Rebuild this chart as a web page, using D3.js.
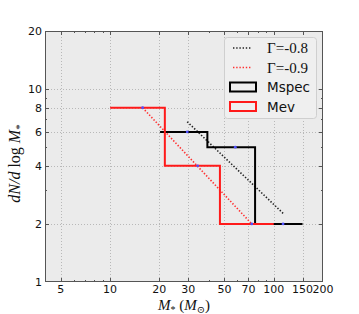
<!DOCTYPE html>
<html>
<head>
<meta charset="utf-8">
<script src="https://cdn.jsdelivr.net/npm/d3@7"></script>
<style>
  html, body { margin: 0; padding: 0; background: #fff; }
  svg { display: block; }
</style>
</head>
<body>
<div id="chart"></div>
<script>
// histogram bins
const mevEdges = [10, 21.6, 46.9, 100];
const mevValues = [8, 4, 2];
const mevCenters = [15.8, 34.3, 73.4];

const mspecEdges = [20.2, 39.3, 76.9, 150];
const mspecValues = [6, 5, 2];
const mspecCenters = [29.6, 58.2, 114];

// power-law fits (end points)
const fit08X = [29.6, 114];
const fit08Y = [6.77, 2.27];
const fit09X = [15.8, 73.4];
const fit09Y = [8, 2];

const xTicks = [5, 10, 20, 30, 50, 70, 100, 150, 200];
const xMinor = [6, 7, 8, 9, 40, 60, 80, 90];
const yTicks = [1, 2, 4, 6, 8, 10, 20];
const yMinor = [3, 5, 7, 9];

const W = 359, H = 314;
const L = 45, R = 323, T = 31, B = 282;

const svg = d3.select("#chart").append("svg")
    .attr("width", W).attr("height", H);

const x = d3.scaleLog().domain([4, 200]).range([L, R]);
const y = d3.scaleLog().domain([1, 20]).range([B, T]);

// axes background
svg.append("rect")
    .attr("x", L).attr("y", T)
    .attr("width", R - L).attr("height", B - T)
    .attr("fill", "#ebebeb");

// grid
const grid = svg.append("g")
    .attr("stroke", "#b8b8b8")
    .attr("stroke-width", 1)
    .attr("stroke-dasharray", "1,2");
grid.selectAll("line.gx").data(xTicks.filter(d => d < 200)).enter().append("line")
    .attr("x1", d => Math.round(x(d)) + 0.5).attr("x2", d => Math.round(x(d)) + 0.5)
    .attr("y1", T).attr("y2", B);
grid.selectAll("line.gy").data(yTicks.filter(d => d > 1 && d < 20)).enter().append("line")
    .attr("y1", d => Math.round(y(d)) + 0.5).attr("y2", d => Math.round(y(d)) + 0.5)
    .attr("x1", L).attr("x2", R);

// fit lines
const lineFit = d3.line().x(d => x(d[0])).y(d => y(d[1]));
svg.append("path")
    .attr("d", lineFit(d3.zip(fit08X, fit08Y)))
    .attr("fill", "none")
    .attr("stroke", "#222")
    .attr("stroke-width", 1.6)
    .attr("stroke-dasharray", "1.4,1.8");
svg.append("path")
    .attr("d", lineFit(d3.zip(fit09X, fit09Y)))
    .attr("fill", "none")
    .attr("stroke", "#ff3030")
    .attr("stroke-width", 1.6)
    .attr("stroke-dasharray", "1.4,1.8");

// step histograms
const step = d3.line().x(d => x(d[0])).y(d => y(d[1])).curve(d3.curveStepAfter);
function stepPoints(edges, vals) {
    const pts = vals.map((v, i) => [edges[i], v]);
    pts.push([edges[edges.length - 1], vals[vals.length - 1]]);
    return pts;
}
svg.append("path")
    .attr("d", step(stepPoints(mspecEdges, mspecValues)))
    .attr("fill", "none")
    .attr("stroke", "#000")
    .attr("stroke-width", 2);
svg.append("path")
    .attr("d", step(stepPoints(mevEdges, mevValues)))
    .attr("fill", "none")
    .attr("stroke", "#ff1a1a")
    .attr("stroke-width", 2);

// bin centre markers
const pts = d3.zip(mspecCenters, mspecValues).concat(d3.zip(mevCenters, mevValues));
svg.selectAll("circle.pt").data(pts).enter().append("circle")
    .attr("cx", d => x(d[0])).attr("cy", d => y(d[1]))
    .attr("r", 1.4)
    .attr("fill", "#5050ff");

// frame
svg.append("rect")
    .attr("x", L + 0.5).attr("y", T + 0.5)
    .attr("width", R - L - 1).attr("height", B - T - 1)
    .attr("fill", "none")
    .attr("stroke", "#555")
    .attr("stroke-width", 1);

// ticks (inward, all four sides)
const tk = svg.append("g").attr("stroke", "#555").attr("stroke-width", 1);
function xt(vals, len) {
    vals.forEach(v => {
        const px = Math.round(x(v)) + 0.5;
        tk.append("line").attr("x1", px).attr("x2", px).attr("y1", B).attr("y2", B - len);
        tk.append("line").attr("x1", px).attr("x2", px).attr("y1", T).attr("y2", T + len);
    });
}
function yt(vals, len) {
    vals.forEach(v => {
        const py = Math.round(y(v)) + 0.5;
        tk.append("line").attr("y1", py).attr("y2", py).attr("x1", L).attr("x2", L + len);
        tk.append("line").attr("y1", py).attr("y2", py).attr("x1", R).attr("x2", R - len);
    });
}
xt(xTicks.filter(d => d < 200), 4);
xt(xMinor, 2);
yt(yTicks.filter(d => d > 1 && d < 20), 4);
yt(yMinor, 2);

// tick labels
const fontTick = "'DejaVu Sans', sans-serif";
svg.append("g").selectAll("text").data(xTicks).enter().append("text")
    .attr("x", d => x(d)).attr("y", 293)
    .attr("text-anchor", "middle")
    .style("font-family", fontTick).style("font-size", "11px")
    .attr("fill", "#111")
    .text(d => d);
svg.append("g").selectAll("text").data(yTicks).enter().append("text")
    .attr("x", 42).attr("y", d => y(d) + 4)
    .attr("text-anchor", "end")
    .style("font-family", fontTick).style("font-size", "11px")
    .attr("fill", "#111")
    .text(d => d);

// axis labels
const serif = "'Liberation Serif', 'DejaVu Serif', serif";
const yl = svg.append("text")
    .attr("transform", `translate(20,${(T + B) / 2 + 7}) rotate(-90)`)
    .attr("text-anchor", "middle")
    .style("font-family", serif).style("font-size", "16px")
    .attr("fill", "#111");
yl.append("tspan").style("font-style", "italic").text("dN");
yl.append("tspan").style("font-style", "italic").text("/");
yl.append("tspan").style("font-style", "italic").text("d");
yl.append("tspan").text(" log ");
yl.append("tspan").style("font-style", "italic").text("M");
yl.append("tspan").attr("dy", 3).style("font-size", "11px").text("*");

const xl = svg.append("text")
    .attr("x", (L + R) / 2).attr("y", 310)
    .attr("text-anchor", "middle")
    .style("font-family", serif).style("font-size", "15px")
    .attr("fill", "#111");
xl.append("tspan").style("font-style", "italic").text("M");
xl.append("tspan").attr("dy", 3).style("font-size", "10px").text("*");
xl.append("tspan").attr("dy", -3).text(" (");
xl.append("tspan").style("font-style", "italic").text("M");
xl.append("tspan").attr("dy", 3).style("font-size", "10px").text("\u2299");
xl.append("tspan").attr("dy", -3).text(")");

// legend
const legendItems = [
    { label: "\u0393=-0.8", color: "#222", kind: "dot", serif: true },
    { label: "\u0393=-0.9", color: "#ff3030", kind: "dot", serif: true },
    { label: "Mspec", color: "#000", kind: "box" },
    { label: "Mev", color: "#ff1a1a", kind: "box" }
];
const lg = svg.append("g");
lg.append("rect")
    .attr("x", 224.5).attr("y", 37.5)
    .attr("width", 92).attr("height", 81)
    .attr("rx", 3)
    .attr("fill", "#efefef")
    .attr("stroke", "#cfcfcf");
legendItems.forEach((d, i) => {
    const cy = 48 + i * 19.5;
    if (d.kind === "dot") {
        lg.append("line")
            .attr("x1", 233).attr("x2", 251)
            .attr("y1", cy).attr("y2", cy)
            .attr("stroke", d.color)
            .attr("stroke-width", 1.6)
            .attr("stroke-dasharray", "1.4,1.8");
    } else {
        lg.append("rect")
            .attr("x", 230).attr("y", cy - 4.5)
            .attr("width", 26).attr("height", 9)
            .attr("fill", "none")
            .attr("stroke", d.color)
            .attr("stroke-width", 2);
    }
    lg.append("text")
        .attr("x", 267).attr("y", cy + 5)
        .style("font-family", d.serif ? serif : fontTick)
        .style("font-size", d.serif ? "15px" : "13.5px")
        .attr("fill", "#111")
        .text(d.label);
});
</script>
</body>
</html>
